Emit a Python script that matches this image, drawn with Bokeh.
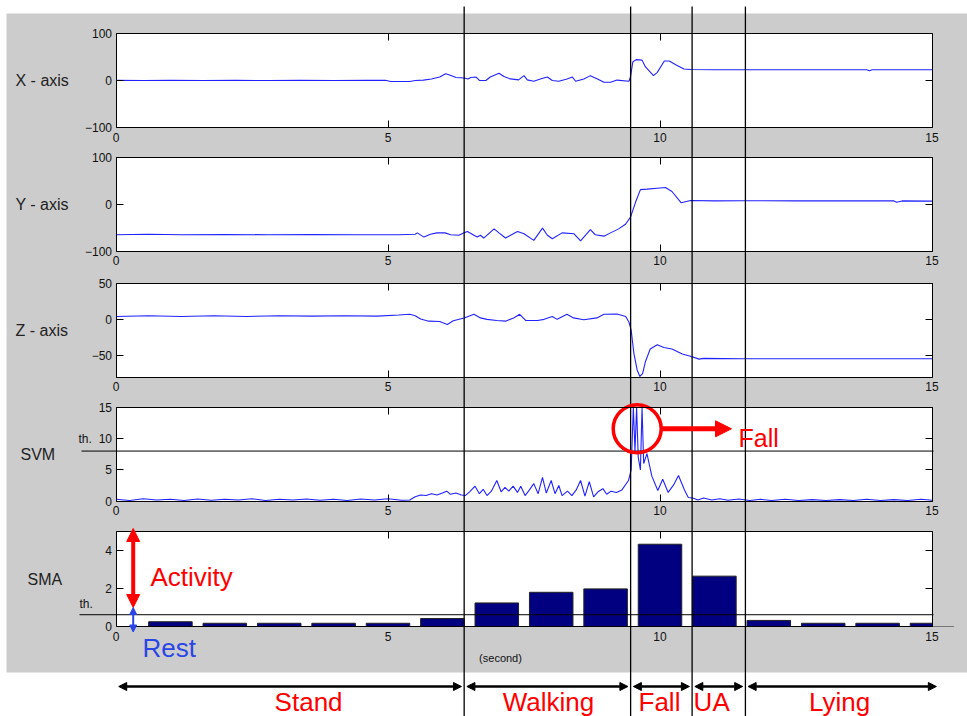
from bokeh.plotting import figure
from bokeh.models import Range1d, LinearAxis, FixedTicker, Label, Arrow, NormalHead, Grid
from bokeh.embed import file_html
from bokeh.resources import INLINE

# ---------------- data ----------------
x_axis_pts = [(0, 1), (0.5, 0.5), (1.0, 1), (1.6, 0.5), (2.2, 1), (2.8, 0.5), (3.4, 1), (4.0, 0.5),
              (4.6, 1), (4.95, 1), (5.05, -1.5), (5.4, -1.5), (5.5, 0.5), (5.65, 1.5), (5.8, 4),
              (5.95, 8), (6.06, 15), (6.12, 13), (6.25, 7), (6.4, 6), (6.47, 4), (6.52, 7), (6.62, 8),
              (6.68, 0.7), (6.8, 0.7), (6.88, 8), (7.04, 16), (7.13, 9), (7.25, 4), (7.4, 2), (7.5, 11),
              (7.56, 2), (7.68, -1), (7.8, 4), (7.93, 8), (8.02, 0.7), (8.14, -1), (8.29, 4), (8.39, 8),
              (8.45, -1), (8.6, 4), (8.72, 11), (8.85, 4), (8.97, -3), (9.09, -3), (9.21, 1.5),
              (9.43, -1), (9.46, 10), (9.5, 40), (9.56, 45), (9.67, 44), (9.73, 30), (9.88, 11),
              (9.95, 18), (10.08, 42), (10.17, 42), (10.29, 34), (10.44, 25), (10.56, 24), (11.0, 23.5),
              (12.0, 23.5), (13.0, 23.5), (13.8, 23.5), (13.85, 21.5), (13.9, 23.5), (15, 23.5)]

y_axis_pts = [(0, -65), (0.6, -64), (1.2, -65), (2.0, -64.5), (2.8, -65), (3.6, -64.5), (4.4, -65),
              (5.2, -65), (5.5, -64), (5.54, -61), (5.66, -70), (5.78, -64), (5.9, -61), (6.05, -61),
              (6.15, -65), (6.3, -66), (6.4, -61), (6.46, -58), (6.58, -66), (6.64, -70), (6.7, -66),
              (6.76, -72), (6.95, -52.5), (7.04, -61), (7.16, -72), (7.38, -58), (7.5, -63), (7.68, -77),
              (7.84, -51), (7.93, -66), (8.02, -73.5), (8.2, -61), (8.42, -63), (8.54, -78), (8.72, -54),
              (8.81, -65), (8.97, -68), (9.09, -61), (9.24, -52.5), (9.37, -42), (9.46, -27), (9.55, 4),
              (9.64, 31), (9.76, 32), (9.95, 34), (10.1, 35.5), (10.22, 27), (10.39, 3), (10.56, 8),
              (11.0, 7), (11.5, 7.5), (12.5, 7), (13.5, 7), (14.3, 7), (14.35, 4), (14.45, 7), (15, 6.5)]

z_axis_pts = [(0, 4), (0.6, 5), (1.2, 4), (1.8, 5), (2.4, 4), (3.0, 5), (3.6, 4.5), (4.2, 5), (4.8, 4.5),
              (5.2, 6), (5.4, 7), (5.5, 5), (5.6, 0.5), (5.75, -2.5), (5.95, -3), (6.09, -7), (6.2, -2),
              (6.4, 2), (6.58, 7), (6.7, 2), (6.82, 0), (7.0, -1.5), (7.16, -2.5), (7.31, 2), (7.42, 7),
              (7.53, -1.5), (7.75, -1.5), (7.87, 0), (8.02, 4), (8.11, 0), (8.29, 7), (8.41, 2),
              (8.6, -0.5), (8.84, 2), (8.97, 7), (9.21, 7.5), (9.37, 4), (9.43, -4), (9.47, -15),
              (9.52, -47), (9.58, -70), (9.63, -79), (9.68, -75), (9.73, -59), (9.82, -41), (9.95, -35),
              (10.07, -39), (10.22, -41), (10.41, -48), (10.56, -51), (10.72, -55), (10.8, -54),
              (11.5, -54.5), (12.5, -54.5), (13.5, -54.5), (15, -54.5)]

svm_pts = [(0, 0.3), (0.25, 0.1), (0.5, 0.4), (0.75, 0.2), (1.0, 0.3), (1.25, 0.1), (1.5, 0.35),
           (1.75, 0.15), (2.0, 0.3), (2.25, 0.2), (2.5, 0.4), (2.75, 0.1), (3.0, 0.3), (3.25, 0.2),
           (3.5, 0.35), (3.75, 0.15), (4.0, 0.3), (4.25, 0.1), (4.5, 0.35), (4.75, 0.2), (5.0, 0.4),
           (5.25, 0.15), (5.4, 0.2), (5.5, 0.7), (5.6, 1.0), (5.7, 0.9), (5.8, 1.2), (5.9, 1.0),
           (6.0, 1.3), (6.08, 1.6), (6.15, 1.1), (6.25, 1.3), (6.35, 1.0), (6.42, 0.9), (6.5, 1.5),
           (6.6, 2.4), (6.68, 1.2), (6.75, 1.9), (6.82, 0.9), (6.9, 1.6), (7.0, 3.3), (7.08, 1.5),
           (7.15, 2.2), (7.22, 1.6), (7.3, 2.4), (7.38, 1.4), (7.44, 2.4), (7.52, 0.9), (7.6, 1.8),
           (7.68, 2.8), (7.76, 1.2), (7.84, 3.8), (7.91, 1.3), (8.0, 3.3), (8.07, 1.2), (8.14, 2.5),
           (8.2, 0.9), (8.3, 1.6), (8.38, 0.9), (8.46, 1.8), (8.54, 3.3), (8.62, 0.8), (8.7, 3.1),
           (8.78, 0.7), (8.86, 1.5), (8.95, 2.0), (9.02, 1.1), (9.1, 1.6), (9.2, 1.4), (9.3, 1.8),
           (9.42, 3.3), (9.47, 5), (9.51, 15), (9.54, 8), (9.57, 15), (9.6, 7), (9.64, 5), (9.67, 15),
           (9.7, 6), (9.76, 7.6), (9.85, 4), (9.96, 1.7), (10.05, 3.5), (10.15, 1.4), (10.25, 2.6),
           (10.34, 4.1), (10.45, 1.8), (10.52, 0.6), (10.6, 0.5), (10.7, 0.2), (10.8, 0.5), (10.95, 0.2),
           (11.1, 0.4), (11.25, 0.15), (11.45, 0.35), (11.65, 0.1), (11.85, 0.3), (12.05, 0.1),
           (12.3, 0.3), (12.55, 0.1), (12.8, 0.25), (13.05, 0.1), (13.3, 0.25), (13.55, 0.1),
           (13.8, 0.3), (14.05, 0.1), (14.3, 0.25), (14.55, 0.1), (14.8, 0.3), (15.0, 0.15)]

sma_seconds = [1, 2, 3, 4, 5, 6, 7, 8, 9, 10, 11, 12, 13, 14, 15]
sma_values = [0.25, 0.17, 0.17, 0.17, 0.17, 0.42, 1.24, 1.8, 1.98, 4.33, 2.65, 0.32, 0.17, 0.17, 0.17]

svm_threshold = 8
sma_threshold = 0.62
section_edges = [6.4, 9.46, 10.59, 11.57]
section_names = ["Stand", "Walking", "Fall", "UA", "Lying"]
section_label_t = [3.54, 7.95, 9.99, 10.95, 13.3]
x_ticks = [0, 5, 10, 15]

# ---------------- layout constants ----------------
W, H = 967, 716
PX0, PX15 = 115.5, 931.5          # pixel of t=0 and t=15
SC = (PX15 - PX0) / 15.0
FONT = "Liberation Sans"
GRAY = "#cccccc"
RED = "#ff0000"
BLUE = "#2a45e6"

panels = [
    dict(name="xa", label="X - axis", lx=15, lo=-100, hi=100, ticks=[-100, 0, 100], top=33.3, bot=127.3),
    dict(name="ya", label="Y - axis", lx=15, lo=-100, hi=100, ticks=[-100, 0, 100], top=156.7, bot=250.7),
    dict(name="za", label="Z - axis", lx=15, lo=-80, hi=50, ticks=[-50, 0, 50], top=282.7, bot=376.7),
    dict(name="svm", label="SVM", lx=20, lo=0, hi=15, ticks=[0, 5, 10, 15], top=406.7, bot=500.7),
    dict(name="sma", label="SMA", lx=27, lo=0, hi=5, ticks=[0, 2, 4], top=531.0, bot=626.0),
]

p = figure(width=W, height=H, output_backend="svg", toolbar_location=None,
           x_range=Range1d(-PX0 / SC, 15 + (W - PX15) / SC), y_range=Range1d(H, 0),
           x_axis_location=None, y_axis_location=None, min_border=0)
p.outline_line_color = None
p.background_fill_color = "white"
p.border_fill_color = "white"
p.renderers = [r for r in p.renderers if not isinstance(r, Grid)]
for g in p.select(type=Grid):
    g.visible = False
p.extra_x_ranges = {"px": Range1d(0, W)}

extra = {}
for pn in panels:
    k = (pn["hi"] - pn["lo"]) / (pn["bot"] - pn["top"])
    extra[pn["name"]] = Range1d(pn["lo"] - (H - pn["bot"]) * k, pn["hi"] + pn["top"] * k)
p.extra_y_ranges = extra

# grey figure background
p.quad(left=[6], right=[W], top=[13], bottom=[672], x_range_name="px",
       fill_color=GRAY, line_color=None)

# white axes areas
for pn in panels:
    p.quad(left=[0], right=[15], bottom=[pn["lo"]], top=[pn["hi"]], y_range_name=pn["name"],
           fill_color="white", line_color=None)

# signals
LINE = "#2222ff"
for pts, nm in [(x_axis_pts, "xa"), (y_axis_pts, "ya"), (z_axis_pts, "za"), (svm_pts, "svm")]:
    t = [a for a, b in pts]
    v = [b for a, b in pts]
    p.line(t, v, y_range_name=nm, line_color=LINE, line_width=1.1)

# SMA bars
p.vbar(x=sma_seconds, width=0.8, top=sma_values, bottom=0, y_range_name="sma",
       fill_color="#000080", line_color="#222222", line_width=1)
# grey strip right of the SMA axes (bars are clipped at 15 s)
p.quad(left=[PX15 + 0.5], right=[W], bottom=[0], top=[5], x_range_name="px", y_range_name="sma",
       fill_color=GRAY, line_color=None)

# thresholds
p.segment(x0=[81], x1=[933], y0=[svm_threshold], y1=[svm_threshold], x_range_name="px",
          y_range_name="svm", line_color="black", line_width=1)
p.segment(x0=[79], x1=[933], y0=[sma_threshold], y1=[sma_threshold], x_range_name="px",
          y_range_name="sma", line_color="black", line_width=1)

# section boundaries
p.segment(x0=section_edges, x1=section_edges, y0=[6] * len(section_edges), y1=[H] * len(section_edges),
          line_color="black", line_width=1.3)

# axes (MATLAB style boxes with inward ticks)
for pn in panels:
    nm = pn["name"]
    common = dict(y_range_name=nm, axis_line_color="black", axis_line_width=1,
                  major_tick_line_color="black", major_tick_out=0, minor_tick_in=0, minor_tick_out=0,
                  major_label_text_font=FONT, major_label_text_font_size="12px",
                  major_label_text_color="#111111")
    left = LinearAxis(fixed_location=0, bounds=(pn["lo"], pn["hi"]), ticker=FixedTicker(ticks=pn["ticks"]),
                      major_tick_in=7, major_label_standoff=4, **common)
    p.add_layout(left, "left")
    right = LinearAxis(fixed_location=15, bounds=(pn["lo"], pn["hi"]), ticker=FixedTicker(ticks=pn["ticks"]),
                       major_tick_in=7, **common)
    right.major_label_text_color = None
    p.add_layout(right, "right")
    bottom = LinearAxis(fixed_location=pn["lo"], bounds=(0, 15), ticker=FixedTicker(ticks=x_ticks),
                        major_tick_in=0 if nm == "sma" else 7, major_label_standoff=5, **common)
    p.add_layout(bottom, "below")
    top = LinearAxis(fixed_location=pn["hi"], bounds=(0, 15), ticker=FixedTicker(ticks=x_ticks),
                     major_tick_in=7, **common)
    top.major_label_text_color = None
    p.add_layout(top, "above")
    # row label
    p.add_layout(Label(x=pn["lx"], y=(pn["top"] + pn["bot"]) / 2, text=pn["label"], x_range_name="px",
                       text_font=FONT, text_font_size="16px", text_color="#222222",
                       text_align="left", text_baseline="middle"))

# threshold labels
p.add_layout(Label(x=78, y=438, text="th.", x_range_name="px", text_font=FONT, text_font_size="12px",
                   text_color="#111111", text_align="left", text_baseline="middle"))
p.add_layout(Label(x=79, y=603, text="th.", x_range_name="px", text_font=FONT, text_font_size="12px",
                   text_color="#111111", text_align="left", text_baseline="middle"))
p.add_layout(Label(x=500, y=657, text="(second)", x_range_name="px", text_font=FONT, text_font_size="11px",
                   text_color="#111111", text_align="center", text_baseline="middle"))

# Fall marker on SVM
p.scatter(x=[636.7], y=[428.3], x_range_name="px", marker="circle", size=48,
          fill_color=None, line_color=RED, line_width=3.5)
p.add_layout(Arrow(end=NormalHead(size=16, fill_color=RED, line_color=RED), x_start=661, y_start=428.3,
                   x_end=731, y_end=428.3, x_range_name="px", line_color=RED, line_width=5))
p.add_layout(Label(x=738, y=437, text="Fall", x_range_name="px", text_font=FONT, text_font_size="25px",
                   text_color=RED, text_align="left", text_baseline="middle"))

# Activity / Rest arrows on SMA
p.add_layout(Arrow(start=NormalHead(size=13, fill_color=RED, line_color=RED),
                   end=NormalHead(size=13, fill_color=RED, line_color=RED),
                   x_start=132.7, y_start=528, x_end=132.7, y_end=607, x_range_name="px",
                   line_color=RED, line_width=4))
p.add_layout(Arrow(start=NormalHead(size=7, fill_color=BLUE, line_color=BLUE),
                   end=NormalHead(size=7, fill_color=BLUE, line_color=BLUE),
                   x_start=132.7, y_start=607, x_end=132.7, y_end=631.5, x_range_name="px",
                   line_color=BLUE, line_width=2))
p.add_layout(Label(x=150, y=576, text="Activity", x_range_name="px", text_font=FONT, text_font_size="26px",
                   text_color=RED, text_align="left", text_baseline="middle"))
p.add_layout(Label(x=142, y=647, text="Rest", x_range_name="px", text_font=FONT, text_font_size="26px",
                   text_color=BLUE, text_align="left", text_baseline="middle"))

# activity timeline below the figure
bounds = [0.05] + section_edges + [15.08]
for i, nm in enumerate(section_names):
    a = bounds[i] + (0.05 if i > 0 else 0)
    b = bounds[i + 1] - (0.05 if i < len(section_names) - 1 else 0)
    p.add_layout(Arrow(start=NormalHead(size=8, fill_color="black", line_color="black"),
                       end=NormalHead(size=8, fill_color="black", line_color="black"),
                       x_start=a, y_start=686, x_end=b, y_end=686, line_color="black", line_width=2.5))
    p.add_layout(Label(x=section_label_t[i], y=701, text=nm, text_font=FONT, text_font_size="26px",
                       text_color=RED, text_align="center", text_baseline="middle"))

open("out.html", "w").write(file_html(p, INLINE))
